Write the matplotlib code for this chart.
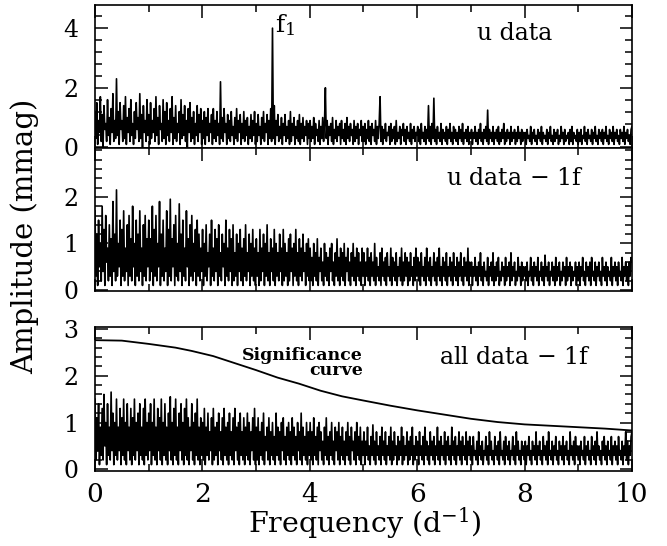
"""
Amplitude spectra of u data, u data after prewhitening one frequency,
and all data after prewhitening, with the significance curve.
"""
import numpy as np
import matplotlib
matplotlib.use("Agg")
from matplotlib import pyplot as plt
from matplotlib.ticker import MultipleLocator, FixedLocator

# amplitude (mmag), 60 values per d^-1, 0-10 d^-1
u_amp = [
    1.2, 0.3, 1.5, 0.1, 0.9, 0.5, 1.7, 0.2, 1.1, 0.0, 1.4, 0.6, 0.8, 0.2, 1.6, 0.4, 1.0, 0.1, 1.3, 0.5, 1.8, 0.2, 0.9, 0.3, 2.3, 0.4, 1.2, 0.1, 1.5, 0.6,
    0.9, 0.2, 1.4, 0.3, 1.7, 0.1, 1.0, 0.5, 1.3, 0.2, 1.6, 0.4, 0.8, 0.1, 1.2, 0.3, 1.5, 0.6, 1.0, 0.2, 1.8, 0.3, 1.1, 0.0, 1.4, 0.5, 0.9, 0.2, 1.6, 0.4,
    1.1, 0.1, 1.5, 0.3, 0.9, 0.5, 1.3, 0.2, 1.7, 0.4, 1.0, 0.1, 1.4, 0.6, 0.8, 0.2, 1.6, 0.3, 1.2, 0.1, 1.5, 0.4, 0.9, 0.2, 1.3, 0.5, 1.7, 0.1, 1.0, 0.3,
    1.4, 0.2, 0.8, 0.5, 1.2, 0.1, 1.6, 0.3, 1.1, 0.4, 1.4, 0.2, 0.9, 0.0, 1.3, 0.5, 1.5, 0.2, 1.0, 0.3, 1.2, 0.1, 0.8, 0.4, 1.4, 0.2, 1.1, 0.5, 1.3, 0.1,
    0.9, 0.3, 1.2, 0.1, 1.0, 0.4, 1.3, 0.2, 0.8, 0.5, 1.1, 0.1, 1.3, 0.3, 0.9, 0.2, 1.2, 0.4, 0.8, 0.1, 2.2, 0.3, 1.0, 0.2, 1.3, 0.5, 0.8, 0.1, 1.1, 0.3,
    0.9, 0.2, 1.2, 0.4, 0.7, 0.1, 1.0, 0.3, 1.3, 0.2, 0.9, 0.5, 1.1, 0.1, 0.8, 0.3, 1.2, 0.2, 0.9, 0.4, 1.0, 0.1, 0.7, 0.3, 1.1, 0.2, 0.9, 0.4, 1.2, 0.1,
    0.8, 0.2, 1.1, 0.4, 0.7, 0.1, 1.0, 0.3, 1.2, 0.2, 0.8, 0.5, 1.1, 0.1, 0.9, 0.3, 1.3, 0.2, 4.0, 0.3, 1.4, 0.1, 0.9, 0.4, 1.1, 0.2, 0.7, 0.3, 1.0, 0.1,
    0.8, 0.4, 1.1, 0.2, 0.7, 0.3, 0.9, 0.1, 1.2, 0.2, 0.8, 0.4, 1.0, 0.1, 0.7, 0.3, 0.9, 0.2, 1.1, 0.1, 0.8, 0.3, 1.0, 0.2, 0.7, 0.4, 0.9, 0.1, 0.8, 0.3,
    0.9, 0.2, 0.7, 0.3, 1.0, 0.1, 0.8, 0.4, 0.6, 0.2, 0.9, 0.1, 0.7, 0.3, 1.0, 0.2, 0.8, 2.0, 0.3, 0.9, 0.1, 0.7, 0.4, 0.8, 0.2, 1.0, 0.1, 0.6, 0.3, 0.9,
    0.2, 0.7, 0.4, 0.8, 0.1, 0.9, 0.3, 0.6, 0.2, 0.8, 0.1, 1.0, 0.3, 0.7, 0.2, 0.8, 0.4, 0.6, 0.1, 0.9, 0.2, 0.7, 0.3, 0.8, 0.1, 0.6, 0.4, 0.9, 0.2, 0.7,
    0.2, 0.8, 0.1, 0.6, 0.3, 0.9, 0.2, 0.7, 0.1, 0.8, 0.4, 0.6, 0.2, 0.9, 0.1, 0.7, 0.3, 0.8, 1.7, 0.2, 0.7, 0.1, 0.6, 0.3, 0.8, 0.2, 0.5, 0.4, 0.7, 0.1,
    0.8, 0.2, 0.6, 0.3, 0.7, 0.1, 0.9, 0.2, 0.5, 0.3, 0.7, 0.1, 0.6, 0.4, 0.8, 0.2, 0.6, 0.1, 0.7, 0.3, 0.5, 0.2, 0.8, 0.1, 0.6, 0.3, 0.7, 0.2, 0.5, 0.4,
    0.7, 0.2, 0.6, 0.1, 0.8, 0.3, 0.5, 0.2, 0.7, 0.1, 0.6, 0.3, 1.4, 0.2, 0.7, 0.1, 0.8, 0.3, 1.65, 0.2, 0.6, 0.1, 0.7, 0.3, 0.5, 0.2, 0.8, 0.1, 0.6, 0.3,
    0.5, 0.2, 0.7, 0.1, 0.6, 0.3, 0.8, 0.2, 0.5, 0.1, 0.7, 0.3, 0.6, 0.2, 0.5, 0.1, 0.7, 0.3, 0.6, 0.2, 0.8, 0.1, 0.5, 0.3, 0.6, 0.2, 0.7, 0.1, 0.5, 0.3,
    0.6, 0.1, 0.5, 0.3, 0.7, 0.2, 0.5, 0.1, 0.6, 0.3, 0.8, 0.2, 0.5, 0.1, 0.6, 0.3, 0.7, 0.2, 1.25, 0.1, 0.6, 0.3, 0.5, 0.2, 0.7, 0.1, 0.5, 0.3, 0.6, 0.2,
    0.7, 0.1, 0.5, 0.2, 0.6, 0.3, 0.8, 0.1, 0.5, 0.2, 0.6, 0.3, 0.5, 0.1, 0.7, 0.2, 0.5, 0.3, 0.6, 0.1, 0.5, 0.2, 0.7, 0.3, 0.5, 0.1, 0.6, 0.2, 0.5, 0.3,
    0.5, 0.1, 0.6, 0.3, 0.4, 0.2, 0.7, 0.1, 0.5, 0.3, 0.6, 0.2, 0.4, 0.1, 0.6, 0.3, 0.5, 0.2, 0.7, 0.1, 0.5, 0.3, 0.4, 0.2, 0.6, 0.1, 0.5, 0.3, 0.7, 0.2,
    0.4, 0.1, 0.6, 0.2, 0.5, 0.3, 0.6, 0.1, 0.4, 0.2, 0.7, 0.3, 0.5, 0.1, 0.6, 0.2, 0.4, 0.3, 0.5, 0.1, 0.6, 0.2, 0.7, 0.1, 0.5, 0.3, 0.4, 0.2, 0.6, 0.1,
    0.5, 0.2, 0.6, 0.1, 0.4, 0.3, 0.7, 0.2, 0.5, 0.1, 0.6, 0.3, 0.4, 0.2, 0.6, 0.1, 0.5, 0.3, 0.7, 0.2, 0.4, 0.1, 0.6, 0.3, 0.5, 0.2, 0.6, 0.1, 0.5, 0.3,
    0.7, 0.2, 0.4, 0.1, 0.6, 0.3, 0.5, 0.2, 0.7, 0.1, 0.5, 0.3, 0.6, 0.2, 0.4, 0.1, 0.6, 0.3, 0.5, 0.2, 0.7, 0.1, 0.5, 0.3, 0.6, 0.2, 0.4, 0.1, 0.6, 0.7,
]

u_res_amp = [
    1.7, 0.3, 1.2, 0.1, 1.5, 0.5, 1.0, 0.2, 1.8, 0.4, 1.3, 0.1, 1.6, 0.6, 0.9, 0.2, 1.4, 0.3, 1.1, 0.1, 1.9, 0.4, 1.2, 0.2, 2.15, 0.3, 1.0, 0.5, 1.5, 0.1,
    1.3, 0.3, 1.7, 0.2, 0.9, 0.4, 1.4, 0.1, 1.6, 0.3, 1.1, 0.2, 1.8, 0.5, 1.0, 0.1, 1.5, 0.3, 1.2, 0.2, 1.7, 0.4, 0.9, 0.1, 1.4, 0.3, 1.6, 0.2, 1.1, 0.5,
    1.5, 0.2, 1.1, 0.4, 1.8, 0.1, 1.3, 0.3, 1.6, 0.2, 1.0, 0.5, 1.9, 0.1, 1.2, 0.3, 1.5, 0.2, 0.9, 0.4, 1.7, 0.1, 1.3, 0.3, 1.95, 0.2, 1.1, 0.5, 1.4, 0.1,
    1.6, 0.3, 1.0, 0.2, 1.85, 0.4, 1.2, 0.1, 1.5, 0.3, 0.9, 0.2, 1.7, 0.5, 1.1, 0.1, 1.4, 0.3, 1.6, 0.2, 1.0, 0.4, 1.3, 0.1, 1.5, 0.3, 1.2, 0.2, 0.9, 0.4,
    1.3, 0.1, 1.0, 0.3, 1.4, 0.2, 0.8, 0.5, 1.2, 0.1, 1.5, 0.3, 0.9, 0.2, 1.3, 0.4, 1.1, 0.1, 1.4, 0.3, 0.8, 0.2, 1.2, 0.5, 1.0, 0.1, 1.5, 0.3, 0.9, 0.2,
    1.3, 0.4, 1.1, 0.1, 1.4, 0.2, 0.8, 0.3, 1.2, 0.1, 1.0, 0.4, 1.3, 0.2, 0.9, 0.1, 1.1, 0.3, 1.4, 0.2, 0.8, 0.4, 1.2, 0.1, 1.0, 0.3, 1.3, 0.2, 0.9, 0.1,
    1.1, 0.3, 0.8, 0.1, 1.3, 0.2, 0.9, 0.4, 1.2, 0.1, 1.0, 0.3, 1.4, 0.2, 0.8, 0.1, 1.1, 0.4, 0.9, 0.2, 1.3, 0.1, 1.0, 0.3, 0.8, 0.2, 1.2, 0.4, 0.9, 0.1,
    1.3, 0.2, 1.0, 0.3, 0.8, 0.1, 1.1, 0.2, 1.2, 0.4, 0.9, 0.1, 1.0, 0.3, 1.3, 0.2, 0.8, 0.1, 1.1, 0.3, 0.9, 0.2, 1.2, 0.4, 0.8, 0.1, 1.0, 0.3, 1.1, 0.2,
    0.9, 0.2, 0.7, 0.1, 1.0, 0.3, 0.8, 0.2, 1.1, 0.1, 0.7, 0.4, 0.9, 0.2, 0.6, 0.1, 1.0, 0.3, 0.8, 0.2, 0.7, 0.1, 0.9, 0.4, 1.0, 0.2, 0.6, 0.1, 0.8, 0.3,
    1.1, 0.2, 0.7, 0.1, 0.9, 0.3, 0.8, 0.2, 1.0, 0.1, 0.7, 0.4, 0.9, 0.2, 0.6, 0.1, 0.8, 0.3, 1.0, 0.2, 0.7, 0.1, 0.9, 0.3, 0.8, 0.2, 0.6, 0.1, 0.9, 0.3,
    0.8, 0.1, 0.6, 0.3, 0.9, 0.2, 0.7, 0.1, 0.8, 0.3, 0.6, 0.2, 1.0, 0.1, 0.7, 0.3, 0.5, 0.2, 0.8, 0.1, 0.9, 0.3, 0.6, 0.2, 0.7, 0.1, 0.8, 0.3, 0.5, 0.2,
    0.9, 0.1, 0.7, 0.3, 0.6, 0.2, 0.8, 0.1, 0.5, 0.3, 0.7, 0.2, 0.9, 0.1, 0.6, 0.2, 0.8, 0.3, 0.7, 0.1, 0.6, 0.2, 0.8, 0.3, 0.5, 0.1, 0.7, 0.2, 0.9, 0.3,
    0.7, 0.2, 0.6, 0.1, 0.8, 0.3, 0.5, 0.2, 0.7, 0.1, 0.9, 0.3, 0.6, 0.2, 0.7, 0.1, 0.5, 0.3, 0.8, 0.2, 0.6, 0.1, 0.7, 0.3, 0.9, 0.2, 0.5, 0.1, 0.7, 0.3,
    0.6, 0.2, 0.8, 0.1, 0.5, 0.3, 0.7, 0.2, 0.6, 0.1, 0.8, 0.3, 0.5, 0.2, 0.7, 0.1, 0.6, 0.3, 0.8, 0.2, 0.5, 0.1, 0.7, 0.3, 0.6, 0.2, 0.9, 0.1, 0.6, 0.3,
    0.6, 0.1, 0.5, 0.3, 0.7, 0.2, 0.5, 0.1, 0.6, 0.3, 0.8, 0.2, 0.5, 0.1, 0.6, 0.3, 0.4, 0.2, 0.7, 0.1, 0.5, 0.3, 0.6, 0.2, 0.8, 0.1, 0.5, 0.2, 0.6, 0.3,
    0.7, 0.1, 0.4, 0.2, 0.6, 0.3, 0.5, 0.1, 0.7, 0.2, 0.5, 0.3, 0.6, 0.1, 0.8, 0.2, 0.5, 0.3, 0.6, 0.1, 0.4, 0.2, 0.7, 0.3, 0.5, 0.1, 0.6, 0.2, 0.5, 0.3,
    0.5, 0.2, 0.6, 0.1, 0.4, 0.3, 0.7, 0.2, 0.5, 0.1, 0.6, 0.3, 0.5, 0.2, 0.7, 0.1, 0.4, 0.3, 0.6, 0.2, 0.5, 0.1, 0.75, 0.3, 0.5, 0.2, 0.6, 0.1, 0.4, 0.3,
    0.6, 0.2, 0.5, 0.1, 0.7, 0.2, 0.5, 0.3, 0.6, 0.1, 0.4, 0.2, 0.6, 0.3, 0.5, 0.1, 0.7, 0.2, 0.5, 0.3, 0.6, 0.1, 0.5, 0.2, 0.4, 0.3, 0.6, 0.1, 0.5, 0.2,
    0.6, 0.1, 0.5, 0.3, 0.7, 0.2, 0.4, 0.1, 0.6, 0.3, 0.5, 0.2, 0.6, 0.1, 0.7, 0.3, 0.4, 0.2, 0.6, 0.1, 0.5, 0.3, 0.6, 0.2, 0.4, 0.1, 0.7, 0.3, 0.5, 0.2,
    0.6, 0.1, 0.5, 0.3, 0.4, 0.2, 0.7, 0.1, 0.5, 0.3, 0.6, 0.2, 0.5, 0.1, 0.6, 0.3, 0.4, 0.2, 0.7, 0.1, 0.5, 0.3, 0.6, 0.2, 0.5, 0.1, 0.6, 0.3, 0.7, 0.6,
]

all_res_amp = [
    1.5, 0.2, 1.1, 0.4, 1.4, 0.1, 0.9, 0.3, 1.3, 0.2, 1.6, 0.5, 1.0, 0.1, 1.4, 0.3, 0.9, 0.2, 1.65, 0.4, 1.2, 0.1, 1.0, 0.3, 1.5, 0.2, 0.9, 0.4, 1.3, 0.1,
    1.1, 0.3, 1.5, 0.2, 1.0, 0.1, 1.4, 0.4, 0.9, 0.2, 1.3, 0.1, 1.1, 0.3, 1.5, 0.2, 1.0, 0.4, 1.2, 0.1, 1.4, 0.3, 0.9, 0.2, 1.3, 0.1, 1.5, 0.3, 1.0, 0.2,
    1.2, 0.4, 1.4, 0.1, 1.0, 0.3, 1.5, 0.2, 0.9, 0.1, 1.3, 0.4, 1.1, 0.2, 1.5, 0.1, 1.0, 0.3, 1.4, 0.2, 0.9, 0.1, 1.2, 0.4, 1.55, 0.2, 1.0, 0.1, 1.3, 0.3,
    1.5, 0.2, 0.9, 0.1, 1.2, 0.4, 1.4, 0.2, 1.0, 0.1, 1.3, 0.3, 1.5, 0.2, 1.1, 0.1, 0.9, 0.4, 1.4, 0.2, 1.0, 0.1, 1.2, 0.3, 1.5, 0.2, 0.9, 0.1, 1.1, 0.3,
    1.0, 0.2, 1.3, 0.1, 0.9, 0.3, 1.2, 0.2, 0.8, 0.4, 1.1, 0.1, 1.3, 0.2, 0.9, 0.3, 1.0, 0.1, 1.2, 0.4, 0.8, 0.2, 1.1, 0.1, 1.3, 0.3, 0.9, 0.2, 1.0, 0.1,
    1.2, 0.3, 0.8, 0.2, 1.1, 0.1, 1.3, 0.4, 0.9, 0.2, 1.0, 0.1, 1.2, 0.3, 0.8, 0.2, 1.1, 0.1, 0.9, 0.3, 1.2, 0.2, 1.0, 0.1, 0.8, 0.4, 1.1, 0.2, 1.3, 0.1,
    0.9, 0.2, 1.1, 0.1, 0.8, 0.3, 1.0, 0.2, 1.2, 0.1, 0.7, 0.4, 0.9, 0.2, 1.1, 0.1, 0.8, 0.3, 1.0, 0.2, 0.7, 0.1, 1.2, 0.3, 0.9, 0.2, 0.8, 0.1, 1.0, 0.4,
    1.1, 0.2, 0.7, 0.1, 0.9, 0.3, 1.0, 0.2, 0.8, 0.1, 1.1, 0.3, 0.9, 0.2, 0.7, 0.1, 1.0, 0.4, 0.8, 0.2, 1.2, 0.1, 0.9, 0.3, 0.7, 0.2, 1.0, 0.1, 0.8, 0.3,
    1.0, 0.2, 0.8, 0.1, 1.1, 0.3, 0.7, 0.2, 0.9, 0.1, 1.0, 0.4, 0.8, 0.2, 0.6, 0.1, 0.9, 0.3, 1.1, 0.2, 0.7, 0.1, 0.8, 0.3, 1.0, 0.2, 0.6, 0.1, 0.9, 0.4,
    0.8, 0.2, 1.0, 0.1, 0.7, 0.3, 0.9, 0.2, 0.6, 0.1, 0.8, 0.3, 1.0, 0.2, 0.7, 0.1, 0.9, 0.4, 0.6, 0.2, 0.8, 0.1, 1.0, 0.3, 0.7, 0.2, 0.9, 0.1, 0.6, 0.3,
    0.8, 0.1, 0.6, 0.3, 0.9, 0.2, 0.5, 0.1, 0.7, 0.3, 0.95, 0.2, 0.6, 0.1, 0.8, 0.3, 0.5, 0.2, 0.7, 0.1, 0.9, 0.3, 0.6, 0.2, 0.8, 0.1, 0.5, 0.3, 0.7, 0.2,
    0.9, 0.1, 0.6, 0.2, 0.8, 0.3, 0.5, 0.1, 0.7, 0.2, 0.6, 0.3, 0.9, 0.1, 0.7, 0.2, 0.5, 0.3, 0.8, 0.1, 0.6, 0.2, 0.7, 0.3, 0.9, 0.1, 0.5, 0.2, 0.7, 0.3,
    0.6, 0.1, 0.8, 0.3, 0.5, 0.2, 0.7, 0.1, 0.9, 0.3, 0.6, 0.2, 0.5, 0.1, 0.8, 0.3, 0.6, 0.2, 0.7, 0.1, 0.5, 0.3, 0.9, 0.2, 0.6, 0.1, 0.7, 0.3, 0.5, 0.2,
    0.8, 0.1, 0.6, 0.3, 0.7, 0.2, 0.5, 0.1, 0.9, 0.3, 0.6, 0.2, 0.7, 0.1, 0.5, 0.3, 0.8, 0.2, 0.6, 0.1, 0.7, 0.3, 0.5, 0.2, 0.8, 0.1, 0.6, 0.3, 0.7, 0.2,
    0.5, 0.1, 0.7, 0.3, 0.4, 0.2, 0.6, 0.1, 0.8, 0.3, 0.5, 0.2, 0.6, 0.1, 0.4, 0.3, 0.7, 0.2, 0.5, 0.1, 0.8, 0.3, 0.6, 0.2, 0.4, 0.1, 0.7, 0.3, 0.5, 0.2,
    0.6, 0.1, 0.8, 0.3, 0.4, 0.2, 0.6, 0.1, 0.7, 0.3, 0.5, 0.2, 0.6, 0.1, 0.4, 0.3, 0.7, 0.2, 0.5, 0.1, 0.8, 0.3, 0.6, 0.2, 0.4, 0.1, 0.6, 0.3, 0.5, 0.2,
    0.6, 0.1, 0.5, 0.3, 0.7, 0.2, 0.4, 0.1, 0.6, 0.3, 0.5, 0.2, 0.8, 0.1, 0.5, 0.3, 0.6, 0.2, 0.4, 0.1, 0.7, 0.3, 0.5, 0.2, 0.6, 0.1, 0.8, 0.3, 0.4, 0.2,
    0.6, 0.1, 0.5, 0.3, 0.7, 0.2, 0.4, 0.1, 0.6, 0.3, 0.5, 0.2, 0.7, 0.1, 0.5, 0.3, 0.6, 0.2, 0.4, 0.1, 0.8, 0.3, 0.5, 0.2, 0.6, 0.1, 0.7, 0.3, 0.5, 0.2,
    0.5, 0.1, 0.6, 0.3, 0.4, 0.2, 0.7, 0.1, 0.5, 0.3, 0.6, 0.2, 0.4, 0.1, 0.7, 0.3, 0.5, 0.2, 0.6, 0.1, 0.8, 0.3, 0.5, 0.2, 0.4, 0.1, 0.6, 0.3, 0.7, 0.2,
    0.5, 0.1, 0.6, 0.3, 0.4, 0.2, 0.7, 0.1, 0.5, 0.3, 0.6, 0.2, 0.5, 0.1, 0.7, 0.3, 0.4, 0.2, 0.6, 0.1, 0.5, 0.3, 0.8, 0.2, 0.6, 0.1, 0.5, 0.3, 0.7, 0.8,
]

# significance curve
sig_freq = [0.0, 0.5, 1.0, 1.5, 1.8, 2.2, 2.6, 3.0, 3.4, 3.8, 4.2, 4.6, 5.0,
            5.5, 6.0, 6.5, 7.0, 7.5, 8.0, 8.5, 9.0, 9.5, 10.0]
sig_amp = [2.76, 2.75, 2.68, 2.60, 2.53, 2.42, 2.27, 2.12, 1.96, 1.83, 1.68,
           1.56, 1.47, 1.36, 1.26, 1.17, 1.08, 1.01, 0.96, 0.93, 0.90, 0.87, 0.83]

labels = ["u data", "u data $-$ 1f", "all data $-$ 1f"]

plt.rcParams['font.family'] = ['DejaVu Serif']
plt.rcParams['mathtext.fontset'] = 'dejavuserif'


def style_axis(ax, ylim, ymajor, yminor):
    ax.set_xlim(0, 10)
    ax.set_ylim(*ylim)
    ax.xaxis.set_major_locator(MultipleLocator(2))
    ax.xaxis.set_minor_locator(MultipleLocator(1))
    ax.yaxis.set_major_locator(FixedLocator(ymajor))
    ax.yaxis.set_minor_locator(MultipleLocator(yminor))
    ax.tick_params(which='both', direction='in', top=True, right=True, width=1.1)
    ax.tick_params(which='major', length=9)
    ax.tick_params(which='minor', length=5)
    ax.tick_params(axis='y', labelsize=17, pad=12)
    ax.tick_params(axis='x', labelsize=19, pad=8)
    for s in ax.spines.values():
        s.set_linewidth(1.2)


def main():
    fig = plt.figure(figsize=(6.67, 5.46), dpi=100)
    left, width = 0.1424, 0.8051
    ax1 = fig.add_axes([left, 0.729, width, 0.262])
    ax2 = fig.add_axes([left, 0.467, width, 0.262])
    ax3 = fig.add_axes([left, 0.137, width, 0.264])

    ax1.plot(np.linspace(0, 10, len(u_amp)), u_amp, color='black', lw=1.2)
    ax2.plot(np.linspace(0, 10, len(u_res_amp)), u_res_amp, color='black', lw=1.2)
    ax3.plot(np.linspace(0, 10, len(all_res_amp)), all_res_amp, color='black', lw=1.2)
    ax3.plot(sig_freq, sig_amp, color='black', lw=1.3)

    style_axis(ax1, (-0.02, 4.78), [0, 2, 4], 0.4)
    style_axis(ax2, (-0.02, 3.05), [0, 1, 2], 0.2)
    style_axis(ax3, (-0.04, 3.04), [0, 1, 2, 3], 0.2)
    ax1.tick_params(labelbottom=False)
    ax2.tick_params(labelbottom=False)

    for ax, lab, yy in zip((ax1, ax2, ax3), labels, (0.80, 0.79, 0.79)):
        ax.text(0.782, yy, lab, transform=ax.transAxes, ha='center',
                va='center', fontsize=17)
    ax1.text(3.36, 4.55, r"$\mathrm{f_1}$", fontsize=18, ha='left', va='top')
    ax3.text(4.99, 2.02, "Significance\ncurve", fontsize=12.5, fontweight='bold',
             ha='right', multialignment='right', linespacing=0.8)

    fig.text(0.0375, 1 - 236 / 546, "Amplitude (mmag)", rotation=90,
             ha='center', va='center', fontsize=21)
    fig.text(0.547, 1 - 523 / 546, r"Frequency (d$^{-1}$)",
             ha='center', va='center', fontsize=20.5)

    fig.savefig("out.png", dpi=100)


if __name__ == "__main__":
    main()
